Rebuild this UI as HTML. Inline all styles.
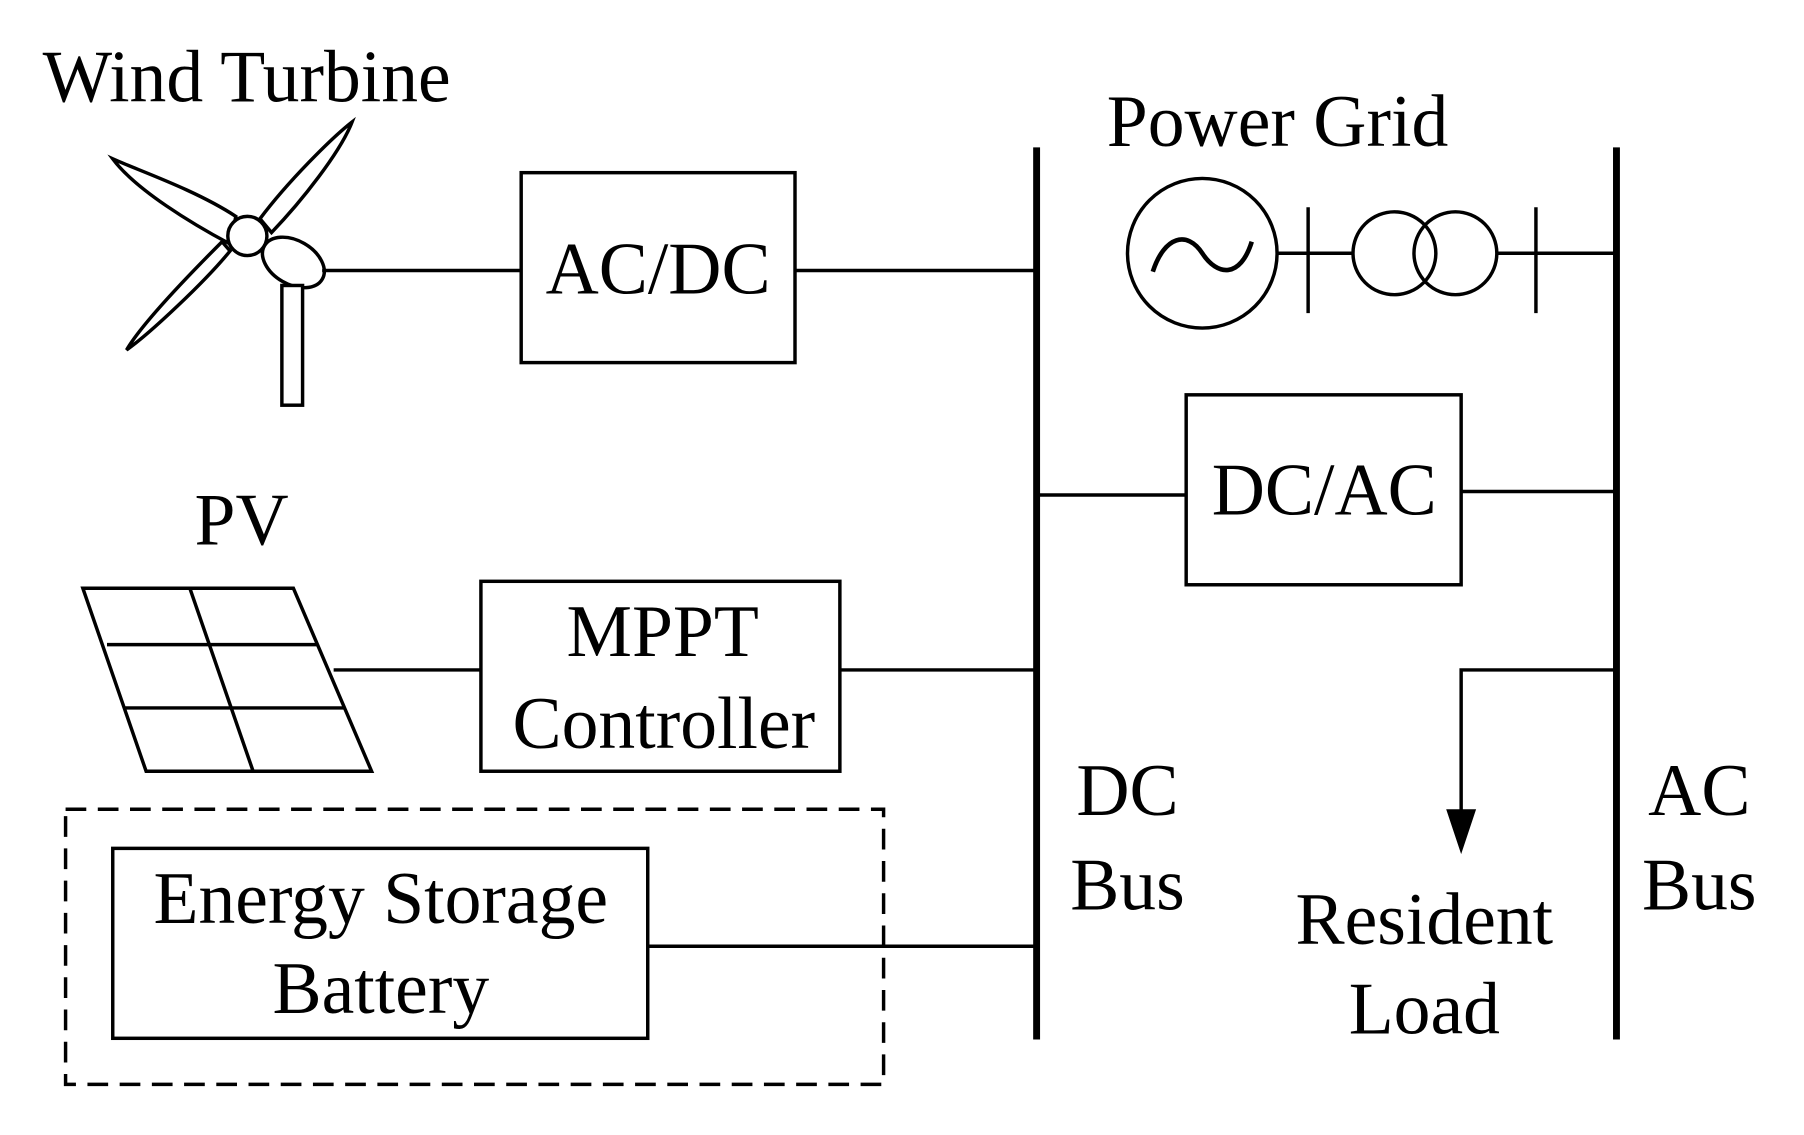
<!DOCTYPE html>
<html><head><style>html,body{margin:0;padding:0;background:#fff}svg{display:block}</style></head><body>
<svg width="1804" height="1135" viewBox="0 0 1568 986" preserveAspectRatio="none" xmlns="http://www.w3.org/2000/svg" font-family="'Liberation Serif', serif" fill="none" stroke="#000">
<g stroke-width="3">
<path d="M205,188 C170,165 120,148 98,138 C118,165 168,195 200,212 Z"/>
<path d="M226,190 C250,158 288,120 306,106 C296,132 262,175 236,202 Z"/>
<path d="M200,218 C178,245 130,290 110,304 C124,280 168,235 193,210 Z"/>
<circle cx="215" cy="205" r="17" fill="#fff"/>
<ellipse cx="255" cy="228" rx="29" ry="19" transform="rotate(30 255 228)" fill="#fff"/>
<rect x="245" y="248" width="18" height="104" fill="#fff"/>
</g>
<g stroke-width="3">
<line x1="280" y1="235" x2="453" y2="235"/>
<rect x="453" y="150" width="238" height="165"/>
<line x1="691" y1="235" x2="900" y2="235"/>
<rect x="1031" y="343" width="239" height="165"/>
<line x1="903" y1="430" x2="1031" y2="430"/>
<line x1="1270" y1="427" x2="1405" y2="427"/>
<circle cx="1045" cy="220" r="65"/>
<path d="M1002,236 C1012,205 1032,200 1045,220 C1058,240 1078,242 1088,210" stroke-width="4"/>
<line x1="1110" y1="220" x2="1176" y2="220"/>
<line x1="1301" y1="220" x2="1403" y2="220"/>
<line x1="1137" y1="180" x2="1137" y2="272"/>
<line x1="1335" y1="180" x2="1335" y2="272"/>
<circle cx="1212" cy="220" r="36"/>
<circle cx="1265" cy="220" r="36"/>
<path d="M72,511 L255,511 L323,670 L127,670 Z"/>
<line x1="165" y1="511" x2="220" y2="670"/>
<line x1="93" y1="560" x2="276" y2="560"/>
<line x1="109" y1="615" x2="300" y2="615"/>
<line x1="290" y1="582" x2="418" y2="582"/>
<rect x="418" y="505" width="312" height="165"/>
<line x1="730" y1="582" x2="900" y2="582"/>
<rect x="57" y="703" width="711" height="239" stroke-dasharray="18,10"/>
<rect x="98" y="737" width="465" height="165"/>
<line x1="563" y1="822" x2="900" y2="822"/>
<polyline points="1405,582 1270,582 1270,705"/>
</g>
<polygon points="1257,703 1283,703 1270,742" fill="#000" stroke="none"/>
<line x1="901" y1="128" x2="901" y2="903" stroke-width="6"/>
<line x1="1405" y1="128" x2="1405" y2="903" stroke-width="6"/>
<g fill="#000" stroke="none" font-size="64">
<text x="37" y="88">Wind Turbine</text>
<text x="962" y="127">Power Grid</text>
<text x="572" y="255" text-anchor="middle">AC/DC</text>
<text x="1151" y="447" text-anchor="middle">DC/AC</text>
<text x="210" y="473" text-anchor="middle">PV</text>
<text x="576" y="570" text-anchor="middle">MPPT</text>
<text x="577" y="650" text-anchor="middle">Controller</text>
<text x="331" y="802" text-anchor="middle">Energy Storage</text>
<text x="331" y="880" text-anchor="middle">Battery</text>
<text x="980" y="708" text-anchor="middle">DC</text>
<text x="980" y="790" text-anchor="middle">Bus</text>
<text x="1477" y="708" text-anchor="middle">AC</text>
<text x="1477" y="790" text-anchor="middle">Bus</text>
<text x="1238" y="820" text-anchor="middle">Resident</text>
<text x="1238" y="898" text-anchor="middle">Load</text>
</g>
</svg>
</body></html>
